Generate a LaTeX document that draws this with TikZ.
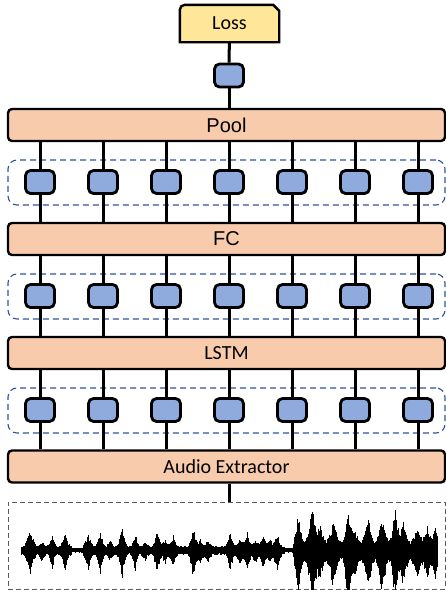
\documentclass[tikz,border=0pt]{standalone}
\usepackage{fontspec}
\setmainfont{Carlito}
\newfontfamily\arialf{Liberation Sans}
\usetikzlibrary{backgrounds}
\definecolor{barfill}{HTML}{F8CBAD}
\definecolor{lossfill}{HTML}{FFE699}
\definecolor{cellfill}{HTML}{8FAADC}
\definecolor{grpblue}{HTML}{2F5597}
\definecolor{wavegray}{HTML}{595959}
\tikzset{
  bar/.style={draw=black, line width=2.4pt, fill=barfill, rounded corners=4pt,
    minimum width=437pt, minimum height=32pt, inner sep=0pt,
    font=\fontsize{20}{24}\selectfont},
  cell/.style={draw=black, line width=2.8pt, fill=cellfill, rounded corners=5pt,
    minimum width=29pt, minimum height=23pt, inner sep=0pt},
  grp/.style={draw=grpblue, line width=1.1pt, dash pattern=on 6pt off 4pt,
    rounded corners=9pt, minimum width=437pt, minimum height=45pt, inner sep=0pt},
  conn/.style={line width=3pt, black},
  wave/.style={line width=0.75pt, black},
}
\newcommand\wavepeaks{30/22/8, 42/7/6, 52/13/6, 65/16/7, 88/15/7, 100/20/6, 110/7/6,
  122/25/6, 135/15/6, 145/7/6, 157/20/6, 165/9/7, 173/13/6, 193/24/6, 200/9/7,
  208/9/6, 230/18/6, 240/9/8, 247/17/6, 255/9/7, 263/14/6, 270/9/7, 277/16/6,
  298/35/7, 312/42/9, 320/20/8, 333/27/9, 348/42/7, 355/15/9, 368/30/8, 382/32/9,
  395/40/7, 403/25/8, 417/20/8, 427/20/8, 435/18/6}
\begin{document}
\begin{tikzpicture}[x=1pt,y=-1pt]
\useasboundingbox (0,0) rectangle (446,590);
% Loss
\node[minimum width=99pt, minimum height=37pt, inner sep=0pt,
  font=\fontsize{20}{24}\selectfont] (loss) at (229.5,23.5) {Loss};
\begin{scope}[on background layer]
\draw[line width=2.4pt, fill=lossfill]
  (loss.south west) -- ([yshift=-5pt]loss.north west)
  arc[start angle=180, end angle=90, radius=5pt]
  -- ([xshift=-6pt]loss.north east) -- ([yshift=-6pt]loss.north east)
  -- (loss.south east) -- cycle;
\end{scope}
\node[cell] (top) at (229,75.5) {};
% bars
\node[bar] (pool) at (226.5,125) {\arialf Pool};
\node[bar] (fc) at (226.5,239) {\arialf FC};
\node[bar] (lstm) at (226.5,353) {LSTM};
\node[bar] (audio) at (226.5,466.5) {Audio Extractor};
% dashed groups
\node[grp] (g1) at (226.5,182.5) {};
\node[grp] (g2) at (226.5,296.5) {};
\node[grp] (g3) at (226.5,410.5) {};
% top connections
\draw[conn] (loss) -- (top);
\draw[conn] (top) -- (top |- pool.north);
% columns
\foreach \i/\cx in {1/40,2/103,3/166,4/229,5/292,6/355,7/418}{
  \node[cell] (a\i) at (\cx,182) {};
  \node[cell] (b\i) at (\cx,296) {};
  \node[cell] (c\i) at (\cx,410) {};
  \draw[conn] (a\i |- pool.south) -- (a\i.north);
  \draw[conn] (a\i.south) -- (a\i |- fc.north);
  \draw[conn] (b\i |- fc.south) -- (b\i.north);
  \draw[conn] (b\i.south) -- (b\i |- lstm.north);
  \draw[conn] (c\i |- lstm.south) -- (c\i.north);
  \draw[conn] (c\i.south) -- (c\i |- audio.north);
}
% waveform box
\node[draw=wavegray, line width=0.9pt, dash pattern=on 5pt off 3pt,
  minimum width=437pt, minimum height=87pt, inner sep=0pt] (wbox) at (226.5,545.5) {};
\draw[conn] ([xshift=2.5pt]audio.south) -- ([xshift=2.5pt]wbox.north);
% waveform
\pgfmathsetseed{11}
\foreach \x in {21,21.5,...,437}{
  \pgfmathsetmacro\bs{\x>294 ? 9 : (abs(\x-77)<6 || abs(\x-289)<5 ? 2.5 : 4.5)}
  \xdef\env{\bs}
  \foreach \pc/\pa/\pw in \wavepeaks {
    \pgfmathsetmacro\tt{max(0,1-abs(\x-\pc)/\pw)}
    \pgfmathparse{\env+\pa*\tt*\tt}
    \xdef\env{\pgfmathresult}
  }
  \pgfmathsetmacro\up{\env*(0.6+0.35*rnd)*0.9}
  \pgfmathsetmacro\dn{\env*(0.6+0.35*rnd)*1.15}
  \draw[wave] (\x,550-\up) -- (\x,550+\dn);
}
\end{tikzpicture}
\end{document}
